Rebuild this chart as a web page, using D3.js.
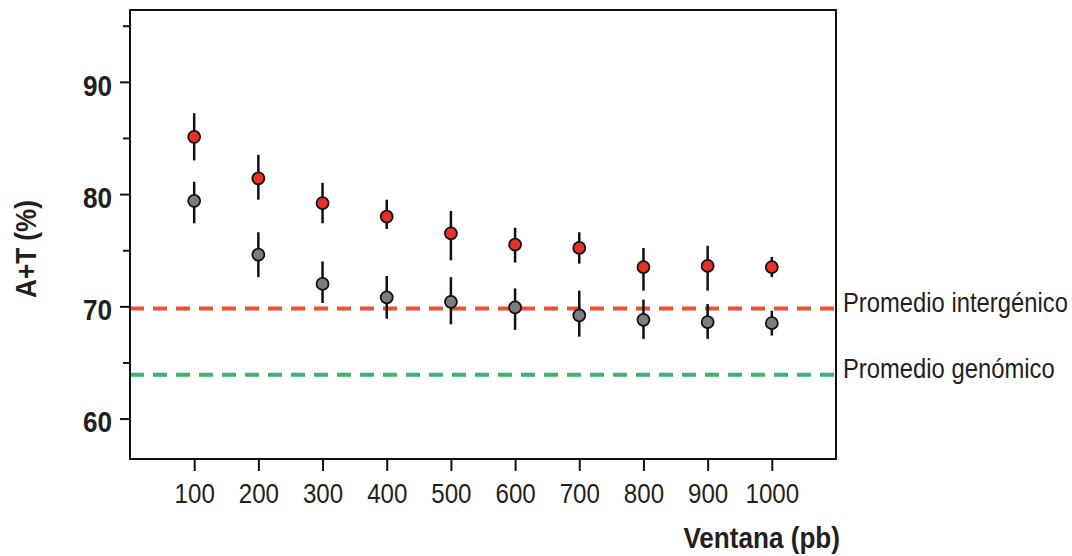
<!DOCTYPE html>
<html>
<head>
<meta charset="utf-8">
<script src="https://cdn.jsdelivr.net/npm/d3@7"></script>
<style>
  body { margin: 0; background: #fff; }
  svg text { font-family: "Liberation Sans", Arial, sans-serif; fill: #231f20; }
</style>
</head>
<body>
<script>
// window sizes (pb)
var windows = [100, 200, 300, 400, 500, 600, 700, 800, 900, 1000];

// intergenic windows (red)
var redMean  = [85.1, 81.4, 79.2, 78.0, 76.5, 75.5, 75.2, 73.5, 73.6, 73.5];
var redHigh  = [87.2, 83.5, 81.0, 79.5, 78.5, 77.0, 76.6, 75.2, 75.4, 74.4];
var redLow   = [83.0, 79.5, 77.4, 76.9, 74.1, 73.9, 73.8, 71.4, 71.4, 72.6];

// genomic windows (grey)
var greyMean = [79.4, 74.6, 72.0, 70.8, 70.4, 69.9, 69.2, 68.8, 68.6, 68.5];
var greyHigh = [81.1, 76.6, 74.0, 72.7, 72.6, 71.6, 71.4, 70.6, 70.2, 69.6];
var greyLow  = [77.4, 72.6, 70.3, 68.9, 68.4, 67.9, 67.3, 67.1, 67.1, 67.4];

// reference averages
var refNames  = ["Promedio intergénico", "Promedio genómico"];
var refValues = [69.8, 63.9];

var yTicks = [60, 70, 80, 90];
var yMinor = [65, 75, 85, 95];

var width = 1072, height = 556;
var margin = {left: 130, right: 836, top: 10, bottom: 459};

var svg = d3.select("body").append("svg")
    .attr("width", width)
    .attr("height", height);

var x = d3.scaleLinear().domain([0, 1100]).range([margin.left, margin.right]);
var y = d3.scaleLinear().domain([56.4, 96.4]).range([margin.bottom, margin.top]);

// squeeze text horizontally to mimic a narrow face
function narrow(sel, k) {
    sel.each(function() {
        var len = this.getComputedTextLength();
        d3.select(this)
            .attr("textLength", len * k)
            .attr("lengthAdjust", "spacingAndGlyphs");
    });
}

// reference lines
var refColors = ["#f0502f", "#3bb56f"];
svg.selectAll(".ref")
    .data(refValues)
  .enter().append("line")
    .attr("x1", margin.left).attr("x2", margin.right)
    .attr("y1", function(d) { return y(d); })
    .attr("y2", function(d) { return y(d); })
    .attr("stroke", function(d, i) { return refColors[i]; })
    .attr("stroke-width", 4)
    .attr("stroke-dasharray", "14,9");

svg.selectAll(".reflabel")
    .data(refValues)
  .enter().append("text")
    .attr("x", 843)
    .attr("y", function(d) { return y(d) + 3; })
    .style("font-size", "28px")
    .text(function(d, i) { return refNames[i]; })
    .call(narrow, 0.85);

// frame
svg.append("rect")
    .attr("x", margin.left).attr("y", margin.top)
    .attr("width", margin.right - margin.left)
    .attr("height", margin.bottom - margin.top)
    .attr("fill", "none")
    .attr("stroke", "#111")
    .attr("stroke-width", 2);

// y axis
var yAxis = d3.axisLeft(y).tickValues(yTicks).tickSize(10).tickPadding(8);
var gy = svg.append("g")
    .attr("transform", "translate(" + margin.left + ",0)")
    .call(yAxis);
gy.select(".domain").remove();
gy.selectAll(".tick line").attr("stroke", "#111").attr("stroke-width", 2);
gy.selectAll(".tick text")
    .attr("dy", "0.44em")
    .style("font-size", "30px")
    .style("font-weight", "bold")
    .attr("fill", "#231f20")
    .call(narrow, 0.87);

var gyMinor = svg.append("g")
    .attr("transform", "translate(" + margin.left + ",0)")
    .call(d3.axisLeft(y).tickValues(yMinor).tickSize(7).tickFormat(""));
gyMinor.select(".domain").remove();
gyMinor.selectAll(".tick line").attr("stroke", "#111").attr("stroke-width", 2);

// x axis
var xAxis = d3.axisBottom(x).tickValues(windows).tickSize(12).tickPadding(12)
    .tickFormat(d3.format("d"));
var gx = svg.append("g")
    .attr("transform", "translate(0," + margin.bottom + ")")
    .call(xAxis);
gx.select(".domain").remove();
gx.selectAll(".tick line").attr("stroke", "#111").attr("stroke-width", 2);
gx.selectAll(".tick text")
    .style("font-size", "28px")
    .attr("fill", "#231f20")
    .call(narrow, 0.86);

// axis titles
svg.append("text")
    .attr("x", 840).attr("y", 548)
    .attr("text-anchor", "end")
    .style("font-size", "30px")
    .style("font-weight", "bold")
    .text("Ventana (pb)")
    .call(narrow, 0.87);

svg.append("text")
    .attr("transform", "translate(36,249) rotate(-90)")
    .attr("text-anchor", "middle")
    .style("font-size", "30px")
    .style("font-weight", "bold")
    .text("A+T (%)")
    .call(narrow, 0.87);

// points with error bars
function drawSeries(mean, hi, lo, fill) {
    var g = svg.append("g");
    g.selectAll("line")
        .data(windows)
      .enter().append("line")
        .attr("x1", function(d) { return x(d); })
        .attr("x2", function(d) { return x(d); })
        .attr("y1", function(d, i) { return y(hi[i]); })
        .attr("y2", function(d, i) { return y(lo[i]); })
        .attr("stroke", "#111")
        .attr("stroke-width", 2.5);
    g.selectAll("circle")
        .data(windows)
      .enter().append("circle")
        .attr("cx", function(d) { return x(d); })
        .attr("cy", function(d, i) { return y(mean[i]); })
        .attr("r", 6)
        .attr("fill", fill)
        .attr("stroke", "#111")
        .attr("stroke-width", 1.8);
}

drawSeries(greyMean, greyHigh, greyLow, "#7b7d82");
drawSeries(redMean, redHigh, redLow, "#e8302a");
</script>
</body>
</html>
